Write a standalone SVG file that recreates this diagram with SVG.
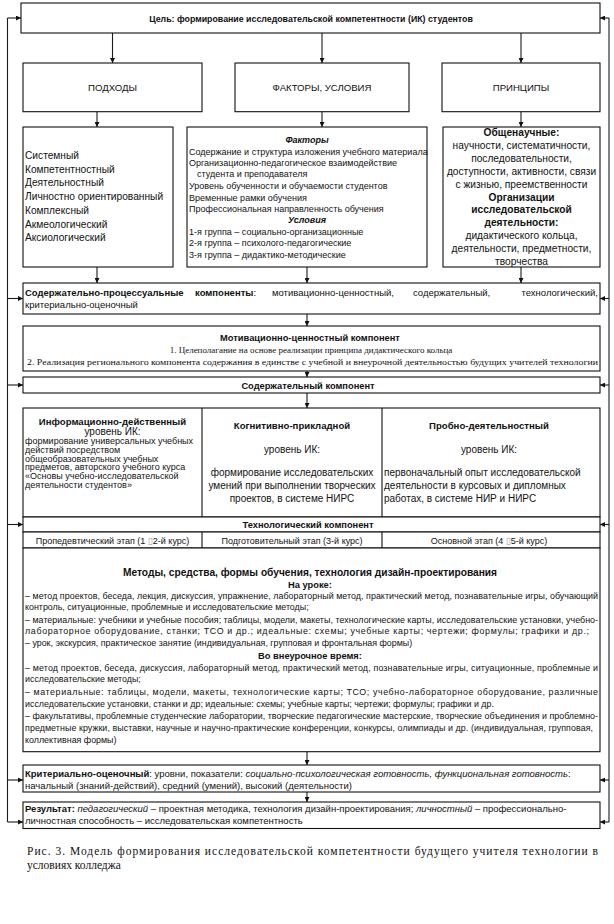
<svg xmlns="http://www.w3.org/2000/svg" width="614" height="924" viewBox="0 0 614 924">
<style>
.box{fill:#fff;stroke:#111;stroke-width:1.1}
.dv{fill:none;stroke:#111;stroke-width:1.1}
.ln{fill:none;stroke:#1a1a1a;stroke-width:1.1}
text{font-family:"Liberation Sans",Arial,sans-serif;fill:#111;font-size:9px}
.c{text-anchor:middle}
.e{text-anchor:end}
.b{font-weight:bold}
.i{font-style:italic}
.f8{font-size:8.9px}
.f88{font-size:8.8px}
.f9{font-size:9px}
.f93{font-size:9.3px}
.f95{font-size:9.5px}
.f96{font-size:9.6px}
.f10{font-size:10px}
.f102{font-size:10.2px}
.f105{font-size:10.2px}
.sf{font-family:"Liberation Serif","Times New Roman",serif}
.tofu{fill:#999}
</style>
<defs>
<marker id="ah" viewBox="0 0 10 10" refX="10" refY="5" markerWidth="5" markerHeight="5" orient="auto" markerUnits="userSpaceOnUse"><path d="M0,0L10,5L0,10z" fill="#111"/></marker>
</defs>
<rect width="614" height="924" fill="#fff"/>

<g id="connectors" class="ln">
<path d="M7.5,18V822"/>
<path d="M609,18V822"/>
<path d="M7.5,18H21" marker-end="url(#ah)"/>
<path d="M7.5,298.5H23" marker-end="url(#ah)"/>
<path d="M7.5,385H23" marker-end="url(#ah)"/>
<path d="M7.5,524.5H23" marker-end="url(#ah)"/>
<path d="M7.5,780H23" marker-end="url(#ah)"/>
<path d="M7.5,822H23" marker-end="url(#ah)"/>
<path d="M609,18H600" marker-end="url(#ah)"/>
<path d="M609,298.5H600" marker-end="url(#ah)"/>
<path d="M609,385H600" marker-end="url(#ah)"/>
<path d="M609,524.5H600" marker-end="url(#ah)"/>
<path d="M609,780H600" marker-end="url(#ah)"/>
<path d="M609,822H600" marker-end="url(#ah)"/>
<path d="M112.5,33V63" marker-end="url(#ah)"/>
<path d="M322,33V63" marker-end="url(#ah)"/>
<path d="M521,33V63" marker-end="url(#ah)"/>
<path d="M97,111.7V127" marker-end="url(#ah)"/>
<path d="M322,111.7V127" marker-end="url(#ah)"/>
<path d="M521,111.7V127" marker-end="url(#ah)"/>
<path d="M97,267V283" marker-end="url(#ah)"/>
<path d="M307,267V283" marker-end="url(#ah)"/>
<path d="M521,267V283" marker-end="url(#ah)"/>
<path d="M307,314V326" marker-end="url(#ah)"/>
<path d="M307,371V377" marker-end="url(#ah)"/>
<path d="M307,393V408" marker-end="url(#ah)"/>
<path d="M307,751.7V765" marker-end="url(#ah)"/>
<path d="M307,792V802" marker-end="url(#ah)"/>
</g>

<g id="goal">
<rect class="box" x="21" y="3" width="579" height="30"/>
<text class="c b f88" x="311" y="21.5">Цель: формирование исследовательской компетентности (ИК) студентов</text>
</g>

<g id="approaches">
<rect class="box" x="23" y="63" width="179" height="48.7"/>
<text class="c f96" x="112.5" y="90.5">ПОДХОДЫ</text>
</g>
<g id="factors-conditions">
<rect class="box" x="235" y="63" width="174" height="48.7"/>
<text class="c f96" x="322" y="90.5">ФАКТОРЫ, УСЛОВИЯ</text>
</g>
<g id="principles">
<rect class="box" x="442" y="63" width="158" height="48.7"/>
<text class="c f96" x="521" y="90.5">ПРИНЦИПЫ</text>
</g>

<g id="approaches-list">
<rect class="box" x="23" y="127" width="150" height="140"/>
<text class="f102" x="25" y="159">Системный</text>
<text class="f102" x="25" y="172.7">Компетентностный</text>
<text class="f102" x="25" y="186.4">Деятельностный</text>
<text class="f102" x="25" y="200.1">Личностно ориентированный</text>
<text class="f102" x="25" y="213.8">Комплексный</text>
<text class="f102" x="25" y="227.5">Акмеологический</text>
<text class="f102" x="25" y="241.2">Аксиологический</text>
</g>

<g id="factors-list">
<rect class="box" x="187" y="127" width="240" height="140"/>
<text class="c b i f9" x="307" y="143">Факторы</text>
<text class="f9" x="189" y="155">Содержание и структура изложения учебного материала</text>
<text class="f9" x="189" y="166">Организационно-педагогическое взаимодействие</text>
<text class="f9" x="197" y="176.5">студента и преподавателя</text>
<text class="f9" x="189" y="189">Уровень обученности и обучаемости студентов</text>
<text class="f9" x="189" y="201">Временные рамки обучения</text>
<text class="f9" x="189" y="212">Профессиональная направленность обучения</text>
<text class="c b i f9" x="307" y="222.5">Условия</text>
<text class="f9" x="189" y="234.5">1-я  группа – социально-организационные</text>
<text class="f9" x="189" y="246">2-я  группа – психолого-педагогические</text>
<text class="f9" x="189" y="257.5">3-я  группа – дидактико-методические</text>
</g>

<g id="principles-list">
<rect class="box" x="443" y="127" width="157" height="140"/>
<text class="c b f102" x="521.5" y="136">Общенаучные:</text>
<text class="c f102" x="521.5" y="148.9">научности, систематичности,</text>
<text class="c f102" x="521.5" y="161.8">последовательности,</text>
<text class="c f102" x="521.5" y="174.7">доступности, активности, связи</text>
<text class="c f102" x="521.5" y="187.6">с жизнью, преемственности</text>
<text class="c b f102" x="521.5" y="200.5">Организации</text>
<text class="c b f102" x="521.5" y="213.4">исследовательской</text>
<text class="c b f102" x="521.5" y="226.3">деятельности:</text>
<text class="c f102" x="521.5" y="239.2">дидактического кольца,</text>
<text class="c f102" x="521.5" y="252.1">деятельности, предметности,</text>
<text class="c f102" x="521.5" y="265">творчества</text>
</g>

<g id="content-process">
<rect class="box" x="23" y="283" width="577" height="31"/>
<text class="b f95" x="25" y="295.5">Содержательно-процессуальные</text>
<text class="f95" x="195" y="295.5"><tspan class="b">компоненты</tspan>:</text>
<text class="f95" x="272" y="295.5">мотивационно-ценностный,</text>
<text class="f95" x="413" y="295.5">содержательный,</text>
<text class="e f95" x="598" y="295.5">технологический,</text>
<text class="f95" x="25" y="308">критериально-оценочный</text>
</g>

<g id="motivational">
<rect class="box" x="23" y="326" width="577" height="45"/>
<text class="c b f93" x="310" y="340.5">Мотивационно-ценностный компонент</text>
<text class="c sf f9" x="311" y="352.5">1. Целеполагание на основе реализации принципа дидактического кольца</text>
<text class="sf f9" x="27" y="364.5" textLength="571" lengthAdjust="spacingAndGlyphs">2. Реализация регионального компонента содержания в единстве с учебной и внеурочной деятельностью будущих учителей технологии</text>
</g>

<g id="content-component">
<rect class="box" x="23" y="377" width="577" height="16"/>
<text class="c b f93" x="308" y="388.5">Содержательный компонент</text>
</g>

<g id="levels">
<rect class="box" x="23" y="408" width="577" height="109"/>
<path class="dv" d="M202,408V517M382,408V517"/>
<text class="c b f96" x="112.5" y="425">Информационно-действенный</text>
<text class="c f10" x="112.5" y="434.5">уровень ИК:</text>
<text class="f9" x="25" y="444">формирование универсальных учебных</text>
<text class="f9" x="25" y="452.8">действий посредством</text>
<text class="f9" x="25" y="461.6">общеобразовательных учебных</text>
<text class="f9" x="25" y="470.4">предметов, авторского учебного курса</text>
<text class="f9" x="25" y="479.2">«Основы учебно-исследовательской</text>
<text class="f9" x="25" y="488">деятельности студентов»</text>
<text class="c b f96" x="292" y="428.5">Когнитивно-прикладной</text>
<text class="c f10" x="292" y="453">уровень ИК:</text>
<text class="c f10" x="292" y="476">формирование исследовательских</text>
<text class="c f10" x="292" y="489">умений при выполнении творческих</text>
<text class="c f10" x="292" y="501.5">проектов, в системе НИРС</text>
<text class="c b f96" x="489" y="428.5">Пробно-деятельностный</text>
<text class="c f10" x="489" y="453">уровень ИК:</text>
<text class="f10" x="384" y="476">первоначальный опыт исследовательской</text>
<text class="f10" x="384" y="489">деятельности в курсовых и дипломных</text>
<text class="f10" x="384" y="501.5">работах, в системе НИР и НИРС</text>
</g>

<g id="technological">
<rect class="box" x="23" y="517" width="577" height="15"/>
<text class="c b f93" x="308" y="528.3">Технологический компонент</text>
</g>

<g id="stages">
<rect class="box" x="23" y="532" width="577" height="16"/>
<path class="dv" d="M202,532V548M382,532V548"/>
<text class="c f9" x="112.5" y="543.5">Пропедевтический этап (1 <tspan class="tofu">▯</tspan>2-й курс)</text>
<text class="c f9" x="292" y="543.5">Подготовительный этап (3-й курс)</text>
<text class="c f9" x="489" y="543.5">Основной этап (4 <tspan class="tofu">▯</tspan>5-й курс)</text>
</g>

<g id="methods">
<rect class="box" x="23" y="548" width="577" height="203.7"/>
<text class="c b f105" x="310" y="575.5">Методы, средства, формы обучения, технология дизайн-проектирования</text>
<text class="c b f93" x="310" y="587.5">На уроке:</text>
<text class="f8" x="25" y="599" textLength="573" lengthAdjust="spacing">– метод проектов, беседа, лекция, дискуссия, упражнение, лабораторный метод, практический метод, познавательные игры, обучающий</text>
<text class="f8" x="25" y="610">контроль, ситуационные, проблемные и исследовательские методы;</text>
<text class="f8" x="25" y="622.5" textLength="573" lengthAdjust="spacing">– материальные: учебники и учебные пособия;  таблицы, модели, макеты, технологические карты, исследовательские установки, учебно-</text>
<text class="f8" x="25" y="633.5" textLength="564" lengthAdjust="spacing">лабораторное оборудование, станки; ТСО и др.; идеальные: схемы; учебные карты; чертежи; формулы; графики и  др.;</text>
<text class="f8" x="25" y="645.5">– урок, экскурсия, практическое занятие (индивидуальная, групповая и фронтальная формы)</text>
<text class="c b f93" x="310" y="658.5">Во внеурочное время:</text>
<text class="f8" x="25" y="670.5" textLength="573" lengthAdjust="spacing">– метод проектов, беседа, дискуссия, лабораторный метод, практический метод, познавательные игры, ситуационные, проблемные и</text>
<text class="f8" x="25" y="681.5">исследовательские методы;</text>
<text class="f8" x="25" y="695" textLength="573" lengthAdjust="spacing">–  материальные:  таблицы,  модели,  макеты,  технологические  карты;  ТСО;  учебно-лабораторное  оборудование,  различные</text>
<text class="f8" x="25" y="706.5">исследовательские установки,  станки и др; идеальные: схемы; учебные карты; чертежи; формулы; графики  и др.</text>
<text class="f8" x="25" y="719" textLength="573" lengthAdjust="spacing">– факультативы, проблемные студенческие лаборатории, творческие педагогические мастерские, творческие объединения и проблемно-</text>
<text class="f8" x="25" y="730.5" textLength="568" lengthAdjust="spacing">предметные кружки, выставки, научные и научно-практические конференции, конкурсы, олимпиады и др. (индивидуальная, групповая,</text>
<text class="f8" x="25" y="742.5">коллективная формы)</text>
</g>

<g id="criterial">
<rect class="box" x="23" y="765" width="577" height="27"/>
<text class="f95" x="25" y="776.5"><tspan class="b">Критериально-оценочный</tspan>: уровни, показатели: <tspan class="i">социально-психологическая готовность, функциональная готовность</tspan>:</text>
<text class="f95" x="25" y="788.5">начальный (знаний-действий), средний (умений), высокий (деятельности)</text>
</g>

<g id="result">
<rect class="box" x="23" y="802" width="577" height="26.5"/>
<text class="f95" x="25" y="812"><tspan class="b">Результат:</tspan> <tspan class="i">педагогический</tspan> – проектная методика, технология дизайн-проектирования; <tspan class="i">личностный</tspan> – профессионально-</text>
<text class="f95" x="25" y="824">личностная способность – исследовательская компетентность</text>
</g>

<g id="caption">
<text class="sf" style="font-size:11.5px" x="27" y="855" textLength="571" lengthAdjust="spacing">Рис. 3. Модель формирования исследовательской компетентности будущего учителя технологии в</text>
<text class="sf" style="font-size:11.5px" x="27" y="869">условиях колледжа</text>
</g>
</svg>
